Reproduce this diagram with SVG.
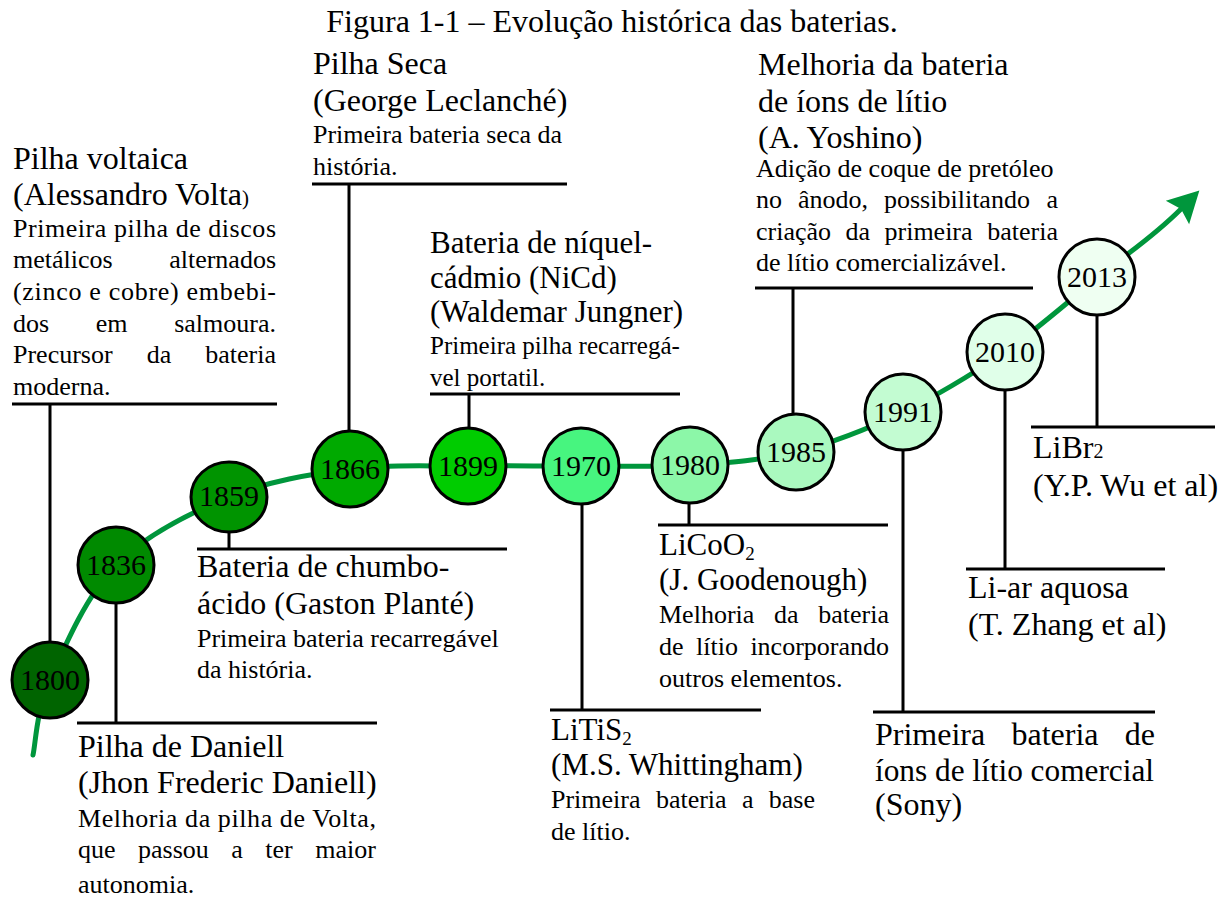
<svg xmlns="http://www.w3.org/2000/svg" width="1227" height="898" viewBox="0 0 1227 898">
<defs>
<style>
text{font-family:"Liberation Serif","Times New Roman",serif;fill:#000}
.t{font-size:32px}
.h{font-size:32px}
.h31{font-size:31px}
.b{font-size:26px}
.b25{font-size:25px}
.y{font-size:30px;text-anchor:middle}
.e{text-anchor:end}
.node{stroke:#000;stroke-width:3}
.stem{stroke:#000;stroke-width:3;fill:none}
.curve{stroke:#00963c;stroke-width:5;fill:none;stroke-linecap:round}
</style>
<marker id="arr" markerUnits="userSpaceOnUse" viewBox="-6 -17 33 34" refX="0" refY="0" markerWidth="33" markerHeight="34" orient="auto">
<path d="M26,0 L-5,-16.5 L0,0 L-5,16.5 Z" fill="#00963c"/>
</marker>
</defs>
<rect width="1227" height="898" fill="#fff"/>
<text class="t" x="612" y="32" text-anchor="middle">Figura 1-1 – Evolução histórica das baterias.</text>

<g id="connectors">
<path class="curve" marker-end="url(#arr)" d="M33,755 C35.8,742.5 36.2,711.7 50,680 C63.8,648.3 86.2,595.5 116,565 C145.8,534.5 190,513 229,497 C268,481 310.2,474.2 350,469 C389.8,463.8 429.5,466.5 468,466 C506.5,465.5 544,466.2 581,466 C618,465.8 654.2,467.3 690,465 C725.8,462.7 760.5,460.8 796,452 C831.5,443.2 868.5,428.7 903,412 C937.5,395.3 972,374.3 1005,352 C1036,330 1067,303 1097,278 C1127,253 1150,240 1181,209"/>
<path class="stem" d="M12,404 H277 M50,404 V642"/>
<path class="stem" d="M77,723 H377 M116,603 V723"/>
<path class="stem" d="M197,549 H507 M229,531 V549"/>
<path class="stem" d="M312,184 H567 M349,184 V431"/>
<path class="stem" d="M430,394 H680 M469,394 V428"/>
<path class="stem" d="M550,710 H761 M582,504 V710"/>
<path class="stem" d="M658,525 H888 M689,503 V525"/>
<path class="stem" d="M755,288 H1033 M793,288 V414"/>
<path class="stem" d="M873,712 H1155 M903,450 V712"/>
<path class="stem" d="M966,569 H1165 M1005,390 V569"/>
<path class="stem" d="M1031,427 H1215 M1097,315 V427"/>
</g>

<g id="n1800">
<circle class="node" cx="50" cy="680" r="38" fill="#006400"/>
<text class="y" x="50" y="690">1800</text>
<text class="h" x="13" y="169">Pilha voltaica</text>
<text class="h" x="13" y="205">(Alessandro Volta<tspan font-size="21px">)</tspan></text>
<text class="b" x="13" y="237" textLength="263" lengthAdjust="spacing">Primeira pilha de discos</text>
<text class="b" x="13" y="268">metálicos</text><text class="b e" x="276" y="268">alternados</text>
<text class="b" x="13" y="300" textLength="263" lengthAdjust="spacing">(zinco e cobre) embebi-</text>
<text class="b" x="13" y="332">dos</text><text class="b" x="95.7" y="332">em</text><text class="b e" x="276" y="332">salmoura.</text>
<text class="b" x="13" y="363">Precursor</text><text class="b" x="146.7" y="363">da</text><text class="b e" x="276" y="363">bateria</text>
<text class="b" x="13" y="395">moderna.</text>
</g>

<g id="n1836">
<circle class="node" cx="116" cy="565" r="38" fill="#008a00"/>
<text class="y" x="116" y="575">1836</text>
<text class="h" x="78" y="757">Pilha de Daniell</text>
<text class="h" x="78" y="793">(Jhon Frederic Daniell)</text>
<text class="b" x="78" y="827" textLength="298" lengthAdjust="spacing">Melhoria da pilha de Volta,</text>
<text class="b" x="78" y="858">que</text><text class="b" x="138" y="858">passou</text><text class="b" x="231.3" y="858">a</text><text class="b" x="265.3" y="858">ter</text><text class="b e" x="376" y="858">maior</text>
<text class="b" x="78" y="893">autonomia.</text>
</g>

<g id="n1859">
<ellipse class="node" cx="229" cy="497" rx="38" ry="35" fill="#009400"/>
<text class="y" x="229" y="506">1859</text>
<text class="h" x="197" y="577">Bateria de chumbo-</text>
<text class="h" x="197" y="614">ácido (Gaston Planté)</text>
<text class="b" x="197" y="647">Primeira bateria recarregável</text>
<text class="b" x="197" y="678">da história.</text>
</g>

<g id="n1866">
<circle class="node" cx="350" cy="469" r="38" fill="#00aa00"/>
<text class="y" x="350" y="479">1866</text>
<text class="h" x="313" y="74">Pilha Seca</text>
<text class="h" x="313" y="111">(George Leclanché)</text>
<text class="b" x="313" y="143">Primeira bateria seca da</text>
<text class="b" x="313" y="175">história.</text>
</g>

<g id="n1899">
<circle class="node" cx="468" cy="466" r="38" fill="#00cc00"/>
<text class="y" x="468" y="476">1899</text>
<text class="h31" x="430" y="253">Bateria de níquel-</text>
<text class="h31" x="430" y="288">cádmio (NiCd)</text>
<text class="h31" x="430" y="322">(Waldemar Jungner)</text>
<text class="b25" x="430" y="354">Primeira pilha recarregá-</text>
<text class="b25" x="430" y="386">vel portatil.</text>
</g>

<g id="n1970">
<circle class="node" cx="581" cy="466" r="38" fill="#47f57f"/>
<text class="y" x="581" y="476">1970</text>
<text class="h31" x="551" y="740">LiTiS<tspan font-size="19px" dy="5">2</tspan></text>
<text class="h31" x="551" y="775">(M.S. Whittingham)</text>
<text class="b" x="551" y="808">Primeira</text><text class="b" x="655.9" y="808">bateria</text><text class="b" x="742" y="808">a</text><text class="b e" x="815" y="808">base</text>
<text class="b" x="551" y="840">de lítio.</text>
</g>

<g id="n1980">
<circle class="node" cx="690" cy="465" r="38" fill="#8cf7a8"/>
<text class="y" x="690" y="475">1980</text>
<text class="h31" x="659" y="555">LiCoO<tspan font-size="19px" dy="5">2</tspan></text>
<text class="h31" x="659" y="590">(J. Goodenough)</text>
<text class="b" x="659" y="623">Melhoria</text><text class="b" x="774" y="623">da</text><text class="b e" x="889" y="623">bateria</text>
<text class="b" x="659" y="655">de</text><text class="b" x="696" y="655">lítio</text><text class="b e" x="889" y="655">incorporando</text>
<text class="b" x="659" y="687">outros elementos.</text>
</g>

<g id="n1985">
<circle class="node" cx="796" cy="452" r="38" fill="#aaf9bf"/>
<text class="y" x="796" y="462">1985</text>
<text class="h" x="758" y="75">Melhoria da bateria</text>
<text class="h" x="758" y="112">de íons de lítio</text>
<text class="h" x="758" y="148">(A. Yoshino)</text>
<text class="b" x="756" y="177">Adição de coque de pretóleo</text>
<text class="b" x="756" y="208">no</text><text class="b" x="798" y="208">ânodo,</text><text class="b" x="884" y="208">possibilitando</text><text class="b e" x="1058" y="208">a</text>
<text class="b" x="756" y="240">criação</text><text class="b" x="845.6" y="240">da</text><text class="b" x="884.5" y="240">primeira</text><text class="b e" x="1058" y="240">bateria</text>
<text class="b" x="756" y="271">de lítio comercializável.</text>
</g>

<g id="n1991">
<circle class="node" cx="903" cy="412" r="38" fill="#c3fcd2"/>
<text class="y" x="903" y="422">1991</text>
<text class="h" x="875" y="745">Primeira</text><text class="h" x="1011.5" y="745">bateria</text><text class="h e" x="1155" y="745">de</text>
<text class="h" x="875" y="781" textLength="279" lengthAdjust="spacingAndGlyphs">íons de lítio comercial</text>
<text class="h" x="875" y="815">(Sony)</text>
</g>

<g id="n2010">
<circle class="node" cx="1005" cy="352" r="38" fill="#e0ffe9"/>
<text class="y" x="1005" y="362">2010</text>
<text class="h" x="968" y="598">Li-ar aquosa</text>
<text class="h" x="968" y="635">(T. Zhang et al)</text>
</g>

<g id="n2013">
<circle class="node" cx="1097" cy="277" r="38" fill="#effff2"/>
<text class="y" x="1097" y="287">2013</text>
<text class="h" x="1033" y="458">LiBr<tspan font-size="20px">2</tspan></text>
<text class="h" x="1033" y="496">(Y.P. Wu et al)</text>
</g>
</svg>
